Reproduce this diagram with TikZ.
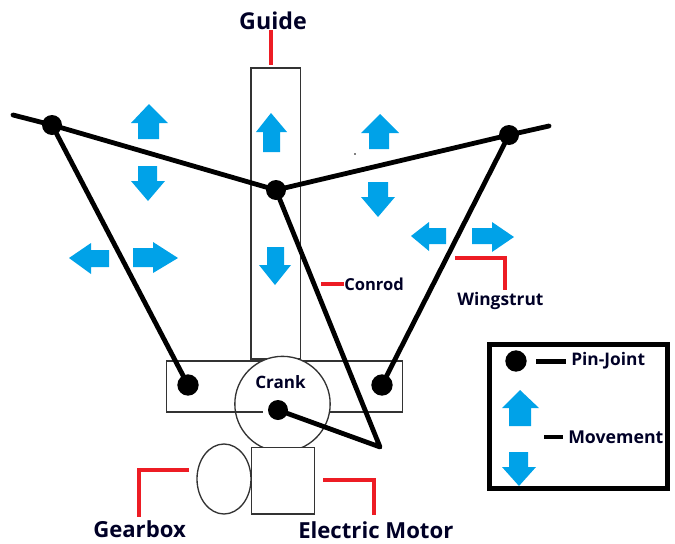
\documentclass[tikz,border=0pt]{standalone}
\usepackage{fontspec}
\usetikzlibrary{shapes.geometric}
\setmainfont{Open Sans}
\definecolor{arrowblue}{HTML}{00A2E8}
\definecolor{leadred}{HTML}{ED1C24}
\tikzset{
  x=0.75pt,y=-0.75pt,
  pin/.style={circle,fill=black,inner sep=0pt,minimum size=15pt},
  rod/.style={draw=black,line width=3.6pt,line cap=round,line join=round},
  thin box/.style={draw=black!80,line width=1pt},
  lead/.style={draw=leadred,line width=3.6pt},
  blue arrow/.style={fill=arrowblue,line join=round},
  lab/.style={font=\bfseries\fontsize{16.6pt}{18pt}\selectfont,text=black!85!blue,inner sep=0pt},
  smalllab/.style={font=\bfseries\fontsize{12.8pt}{14pt}\selectfont,text=black!85!blue,inner sep=0pt}
}
\begin{document}
\begin{tikzpicture}
\useasboundingbox (0,0) rectangle (675,543);
% guide and base
\draw[thin box] (251,68) rectangle (300.5,359);
\draw[thin box] (166.7,361) rectangle (402.7,412);
\node[circle,draw=black!80,line width=1pt,fill=white,minimum size=71.5pt,inner sep=0pt] (crankwheel) at (282.5,404) {};
\draw[thin box] (234.5,412) -- (263,412);
% motor and gearbox
\node[ellipse,draw=black!80,line width=1pt,minimum width=40.5pt,minimum height=52.5pt,inner sep=0pt] (gearbox) at (224,479) {};
\node[draw=black!80,line width=1pt,fill=white,minimum width=47.5pt,minimum height=50pt,inner sep=0pt] (motor) at (283,480.5) {};
% joints
\node[pin] (pa) at (52,125) {};
\node[pin] (pc) at (276,190) {};
\node[pin] (pb) at (509,135) {};
\node[pin,minimum size=16pt] (pl) at (188,385) {};
\node[pin,minimum size=16pt] (pr) at (382,385) {};
\node[pin] (pk) at (278,410) {};
\coordinate (wl) at (13,115);
\coordinate (wr) at (549,126);
\coordinate (cr) at (380,447);
% rods
\draw[rod] (wl) -- (pa.center) -- (pc.center) -- (pb.center) -- (wr);
\draw[rod] (pa.center) -- (pl.center);
\draw[rod] (pb.center) -- (pr.center);
\draw[rod] (pc.center) -- (cr) -- (pk.center);
\fill[black] (355,154) circle (0.8);
% blue arrows
\fill[blue arrow] (149,104) -- (168,123) -- (159,123) -- (159,139) -- (138,139) -- (138,123) -- (131,123) -- cycle;
\fill[blue arrow] (148,201) -- (165,181) -- (157,181) -- (157,166) -- (138,166) -- (138,181) -- (131,181) -- cycle;
\fill[blue arrow] (69,258) -- (91,243) -- (91,250) -- (109,250) -- (109,267) -- (91,267) -- (91,274) -- cycle;
\fill[blue arrow] (178,258) -- (153,242) -- (153,248) -- (133,248) -- (133,267) -- (153,267) -- (153,273) -- cycle;
\fill[blue arrow] (271,113) -- (287,132) -- (280,132) -- (280,152) -- (263,152) -- (263,132) -- (256,132) -- cycle;
\fill[blue arrow] (275,285) -- (291,265) -- (284,265) -- (284,247) -- (267,247) -- (267,265) -- (259,265) -- cycle;
\fill[blue arrow] (380,114) -- (399,133) -- (389,133) -- (389,149) -- (369,149) -- (369,133) -- (361,133) -- cycle;
\fill[blue arrow] (378,217) -- (395,197) -- (388,197) -- (388,182) -- (368,182) -- (368,197) -- (361,197) -- cycle;
\fill[blue arrow] (411,236) -- (429,222) -- (429,228) -- (446,228) -- (446,244) -- (429,244) -- (429,251) -- cycle;
\fill[blue arrow] (514,237) -- (492,222) -- (492,228) -- (472,228) -- (472,244) -- (492,244) -- (492,252) -- cycle;
\fill[blue arrow] (520,390) -- (539,408) -- (531,408) -- (531,426) -- (509,426) -- (509,408) -- (502,408) -- cycle;
\fill[blue arrow] (519,486) -- (536,467) -- (528,467) -- (528,452) -- (509,452) -- (509,467) -- (502,467) -- cycle;
% labels
\node[lab,font=\bfseries\fontsize{17.4pt}{19pt}\selectfont] (guide) at (273,21) {Guide};
\node[smalllab,anchor=west,font=\bfseries\fontsize{12.4pt}{14pt}\selectfont] (conrod) at (344,284) {Conrod};
\node[lab,anchor=west,font=\bfseries\fontsize{13pt}{15pt}\selectfont] (wing) at (457,301) {Wingstrut};
\node[smalllab] (crank) at (280.5,382) {Crank};
\node[lab,anchor=west] (gear) at (93,529) {Gearbox};
\node[lab,anchor=west] (elec) at (298,530) {Electric Motor};
% leaders
\coordinate (g1) at (271,65);
\draw[lead] (271,30) -- (g1);
\draw[lead] (321,284) -- (conrod.west);
\draw[lead] (455,258) -- (505,258) -- (505,290);
\draw[lead] (189,470) -- (139,470) -- (139,517);
\draw[lead] (323,480) -- (374,480) -- (374,515);
% legend
\draw[black,line width=3.75pt] (489.5,344.5) rectangle (667,488.5);
\node[pin,minimum size=16pt] (lp) at (516,361) {};
\node[smalllab,anchor=west,font=\bfseries\fontsize{13pt}{15pt}\selectfont] (lpt) at (571,361) {Pin-Joint};
\node[smalllab,anchor=west,font=\bfseries\fontsize{13.3pt}{15pt}\selectfont] (lmv) at (568,437) {Movement};
\coordinate (d1) at (536,361.5);
\coordinate (d2) at (544,437);
\draw[black,line width=3.4pt] (d1) -- (d1 -| 566,0);
\draw[black,line width=3.4pt] (d2) -- (d2 -| 563,0);
\end{tikzpicture}
\end{document}
